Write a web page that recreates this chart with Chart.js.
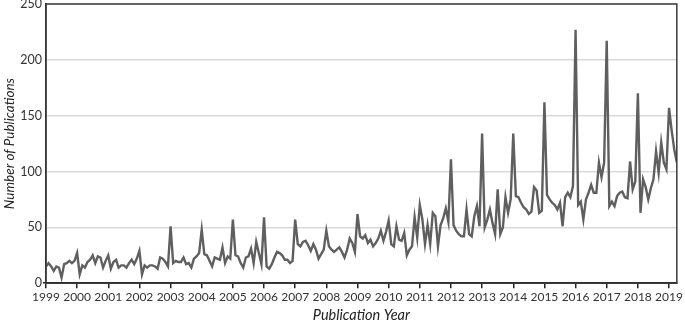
<!DOCTYPE html>
<html>
<head>
<meta charset="utf-8">
<script src="https://cdn.jsdelivr.net/npm/chart.js@4/dist/chart.umd.min.js"></script>
<style>
  html, body { margin: 0; padding: 0; background: #fff; }
  #wrap { width: 685px; height: 322px; }
</style>
</head>
<body>
<div id="wrap"><canvas id="chart"></canvas></div>
<script>
// monthly publication counts, Jan..Dec for each year
const y1999 = [15, 18, 15, 11, 15, 14, 5, 17, 18, 20, 18, 20]
const y2000 = [27, 8, 16, 14, 19, 21, 25, 18, 24, 23, 14, 20]
const y2001 = [25, 13, 19, 21, 14, 16, 16, 14, 18, 21, 17, 22]
const y2002 = [29, 8, 16, 14, 16, 16, 15, 13, 23, 22, 19, 15]
const y2003 = [51, 18, 20, 19, 19, 23, 17, 18, 14, 22, 24, 27]
const y2004 = [48, 26, 25, 20, 15, 23, 22, 21, 32, 18, 24, 22]
const y2005 = [57, 25, 24, 18, 14, 23, 24, 31, 18, 37, 27, 17]
const y2006 = [59, 15, 13, 17, 23, 28, 27, 25, 21, 21, 18, 20]
const y2007 = [57, 35, 33, 37, 38, 34, 29, 35, 30, 22, 26, 30]
const y2008 = [47, 33, 30, 28, 30, 32, 28, 23, 30, 40, 36, 28]
const y2009 = [62, 42, 40, 43, 36, 39, 33, 36, 40, 47, 38, 46]
const y2010 = [56, 35, 33, 51, 39, 38, 45, 25, 30, 33, 59, 41]
const y2011 = [70, 57, 35, 52, 35, 63, 60, 33, 52, 58, 67, 55]
const y2012 = [111, 52, 47, 44, 42, 42, 66, 44, 42, 60, 69, 51]
const y2013 = [134, 50, 57, 66, 54, 44, 84, 44, 50, 77, 63, 75]
const y2014 = [134, 78, 77, 72, 68, 66, 62, 64, 86, 83, 63, 65]
const y2015 = [162, 79, 75, 72, 70, 66, 72, 51, 77, 81, 77, 87]
const y2016 = [227, 70, 73, 57, 75, 81, 88, 81, 81, 108, 95, 108]
const y2017 = [217, 69, 73, 69, 78, 81, 82, 77, 76, 109, 84, 91]
const y2018 = [170, 63, 93, 86, 75, 85, 93, 118, 99, 126, 108, 102]
const y2019 = [157, 137, 120, 108]

const START_YEAR = 1999
const yearTicks = [1999, 2000, 2001, 2002, 2003, 2004, 2005, 2006, 2007, 2008, 2009,
  2010, 2011, 2012, 2013, 2014, 2015, 2016, 2017, 2018, 2019]
const countTicks = [0, 50, 100, 150, 200, 250]

const counts = [
  ...y1999, ...y2000, ...y2001, ...y2002, ...y2003, ...y2004, ...y2005,
  ...y2006, ...y2007, ...y2008, ...y2009, ...y2010, ...y2011, ...y2012,
  ...y2013, ...y2014, ...y2015, ...y2016, ...y2017, ...y2018, ...y2019,
]
const points = counts.map((c, i) => ({ x: START_YEAR + i / 12, y: c }))

const FONT = "Lato, 'Open Sans', sans-serif"

// dark box round the plot area
const frame = {
  id: "frame",
  afterDraw(chart) {
    const { ctx, chartArea: a } = chart
    ctx.save()
    ctx.strokeStyle = "#3a3a3a"
    ctx.lineWidth = 1.5
    ctx.strokeRect(a.left, a.top, a.right - a.left, a.bottom - a.top)
    ctx.restore()
  },
}

new Chart(document.getElementById("chart"), {
  type: "scatter",
  data: {
    datasets: [
      {
        data: points,
        showLine: true,
        borderColor: "#5f5f5f",
        borderWidth: 2.4,
        pointRadius: 0,
        tension: 0,
      },
    ],
  },
  options: {
    animation: false,
    responsive: true,
    maintainAspectRatio: false,
    layout: { padding: { top: 4, right: 4, left: 2, bottom: -2 } },
    plugins: {
      legend: { display: false },
      tooltip: { enabled: false },
    },
    scales: {
      x: {
        type: "linear",
        min: START_YEAR,
        max: 2019.25,
        afterBuildTicks: (scale) => {
          scale.ticks = yearTicks.map((v) => ({ value: v }))
        },
        grid: {
          drawOnChartArea: false,
          drawTicks: true,
          tickLength: 5,
          tickColor: "#222",
          lineWidth: 1.5,
        },
        border: { color: "#222", width: 1.5 },
        ticks: {
          color: "#333",
          font: { family: FONT, size: 12 },
          padding: 2,
          maxRotation: 0,
          autoSkip: false,
          callback: (v) => String(v),
        },
        title: {
          display: true,
          text: "Publication Year",
          color: "#222",
          font: { family: FONT, size: 14.5, style: "italic" },
          padding: { top: 0, bottom: 0 },
        },
      },
      y: {
        min: 0,
        max: 250,
        afterBuildTicks: (scale) => {
          scale.ticks = countTicks.map((v) => ({ value: v }))
        },
        afterFit: (scale) => {
          scale.paddingTop = 0
        },
        grid: {
          color: (ctx) => (ctx.tick && ctx.tick.value === 0 ? "rgba(0,0,0,0)" : "#d9d9d9"),
          lineWidth: 1.5,
          drawTicks: true,
          tickLength: 3,
          tickColor: (ctx) => (ctx.tick && ctx.tick.value === 0 ? "#222" : "rgba(0,0,0,0)"),
        },
        border: { color: "#222", width: 1.5 },
        ticks: {
          color: "#333",
          font: { family: FONT, size: 12.5 },
          padding: 1,
        },
        title: {
          display: true,
          text: "Number of Publications",
          color: "#222",
          font: { family: FONT, size: 13.5, style: "italic" },
          padding: { top: 0, bottom: 1 },
        },
      },
    },
  },
  plugins: [frame],
})
</script>
</body>
</html>
